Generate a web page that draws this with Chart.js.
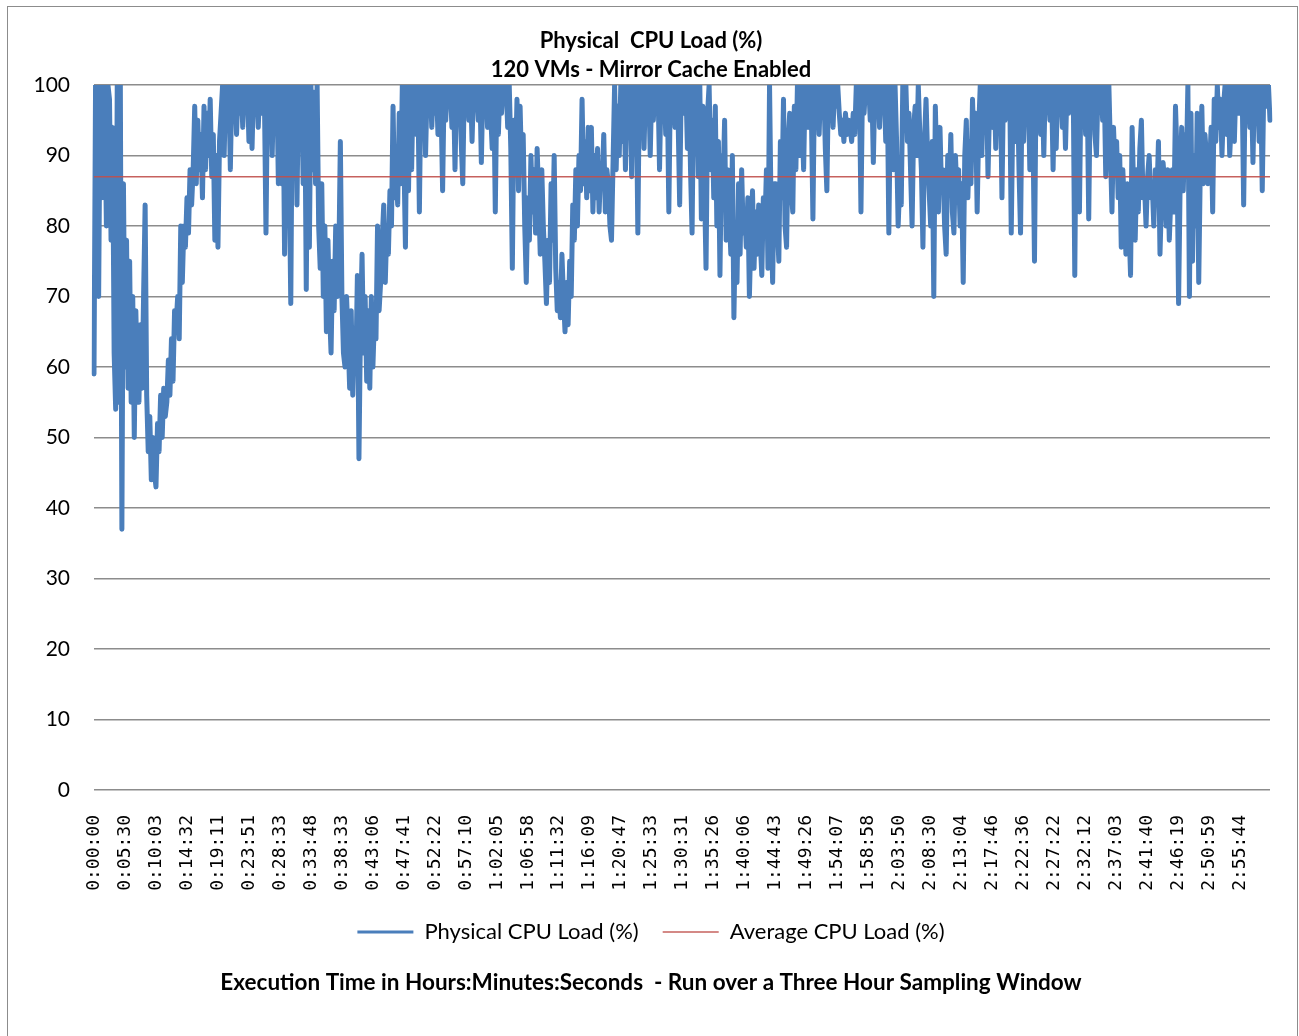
<!DOCTYPE html>
<html>
<head>
<meta charset="utf-8">
<script src="https://cdn.jsdelivr.net/npm/chart.js@4.4.1/dist/chart.umd.min.js"></script>
<style>
html, body { margin: 0; padding: 0; background: #fff; }
#wrap { position: relative; width: 1299px; height: 1036px; overflow: hidden; }
#frame { position: absolute; left: 7px; top: 6px; width: 1289px; height: 1100px; border: 1px solid #8c8c8c; pointer-events: none; }
canvas { position: absolute; left: 0; top: 0; }
</style>
</head>
<body>
<div id="wrap">
  <canvas id="cpuChart" width="1299" height="1036"></canvas>
  <div id="frame"></div>
</div>
<script>
// one tick label every 20 samples
var perTick = 20;
var tickLabels = ["0:00:00","0:05:30","0:10:03","0:14:32","0:19:11","0:23:51","0:28:33","0:33:48",
  "0:38:33","0:43:06","0:47:41","0:52:22","0:57:10","1:02:05","1:06:58","1:11:32","1:16:09",
  "1:20:47","1:25:33","1:30:31","1:35:26","1:40:06","1:44:43","1:49:26","1:54:07","1:58:58",
  "2:03:50","2:08:30","2:13:04","2:17:46","2:22:36","2:27:22","2:32:12","2:37:03","2:41:40",
  "2:46:19","2:50:59","2:55:44"];

// Physical CPU Load (%) samples (one row per tick label)
var cpuLoad = [
  59,100,96,70,100,84,100,97,80,100,98,78,94,62,54,100,55,100,37,86,
  60,78,57,75,55,70,50,68,58,55,66,57,70,83,56,48,53,44,50,45,
  43,52,48,56,50,57,53,55,61,56,64,58,68,66,70,64,80,72,80,77,
  84,79,88,83,88,97,86,95,88,93,84,97,88,96,90,98,87,93,78,90,
  77,92,96,100,90,100,95,100,88,100,97,100,93,100,96,100,94,100,98,100,
  92,100,91,100,97,100,94,100,96,100,98,79,100,93,100,90,100,96,100,86,
  100,86,100,76,95,100,88,69,100,92,100,83,100,95,100,86,100,71,100,77,
  100,88,99,86,100,80,74,86,70,80,65,78,68,62,75,68,80,70,75,92,
  70,62,60,70,64,57,68,56,65,60,73,47,66,76,62,70,58,68,57,70,
  60,67,64,80,68,72,78,83,72,80,76,85,80,97,84,88,83,96,86,100,
  90,77,100,85,100,88,100,96,93,100,82,100,94,100,90,100,97,100,94,100,
  96,100,93,100,97,85,100,95,100,98,100,94,100,88,100,97,100,92,86,100,
  97,100,95,100,92,100,98,100,95,100,89,100,97,100,94,100,96,91,100,82,
  100,93,100,96,100,98,100,94,100,91,74,95,88,98,85,97,88,93,80,72,
  84,78,90,82,88,79,91,84,76,88,80,75,69,78,72,86,78,90,74,68,
  72,67,76,70,65,72,66,75,70,83,78,88,80,90,85,98,86,92,84,94,
  85,94,82,90,84,91,82,88,86,93,82,88,86,80,78,89,100,88,97,90,
  100,92,100,88,100,95,100,87,100,97,100,79,100,93,100,91,100,96,100,90,
  100,95,100,98,100,88,100,96,100,93,100,82,100,97,100,94,100,95,83,100,
  100,96,100,91,100,88,79,100,94,100,87,100,81,97,86,74,96,100,88,95,
  84,97,80,92,73,90,86,95,78,88,82,76,90,67,80,72,86,76,88,79,
  82,77,84,70,79,85,74,82,76,83,78,73,84,80,88,74,100,82,72,86,
  86,80,75,92,84,98,80,77,92,96,85,82,97,88,100,90,100,95,88,100,
  100,94,100,96,81,100,97,100,93,100,98,100,91,85,100,96,100,94,100,97,
  100,96,93,95,92,96,93,95,94,92,96,93,100,95,100,82,100,96,100,98,
  100,95,100,89,100,96,100,94,100,98,100,92,100,79,97,100,88,100,92,80,
  86,83,100,94,100,92,96,88,80,94,97,90,100,93,88,77,92,98,90,85,
  80,92,70,97,88,82,94,85,88,80,76,90,85,93,82,79,90,84,88,80,
  86,72,90,95,84,92,86,98,90,96,82,94,100,90,100,95,100,87,97,100,
  94,100,91,100,97,100,84,100,95,100,98,100,79,96,100,92,100,88,79,100,
  92,100,96,100,88,100,94,75,100,96,100,93,100,90,100,97,100,95,100,88,
  100,91,100,97,100,94,100,91,100,96,100,98,100,73,100,90,82,100,96,100,
  93,100,81,100,96,100,93,90,100,97,100,95,100,87,96,100,91,82,94,88,
  92,84,90,77,88,83,76,86,80,73,94,85,78,88,82,91,95,84,86,80,
  87,90,84,86,80,88,84,92,76,84,89,86,80,88,78,84,88,82,97,90,
  69,86,94,85,93,88,100,70,96,75,90,80,96,72,88,97,86,93,90,86,
  88,94,82,98,92,100,94,98,90,97,100,93,100,90,95,100,92,100,96,100,
  96,100,83,100,97,100,94,100,89,100,97,100,92,100,85,100,97,100,100,95
];

// Average CPU Load (%)
var avgLoad = 87;

var yTicks = [0, 10, 20, 30, 40, 50, 60, 70, 80, 90, 100];

function buildLabels() {
  var labels = [];
  for (var i = 0; i < cpuLoad.length; i++) {
    labels.push(i % perTick === 0 ? tickLabels[i / perTick] : "");
  }
  return labels;
}

function legendLabels(chart) {
  var items = Chart.defaults.plugins.legend.labels.generateLabels(chart);
  items.forEach(function(item) {
    if (item.datasetIndex === 0) {
      item.lineWidth = 3;
    }
  });
  return items;
}

var ctx = document.getElementById("cpuChart").getContext("2d");
var cpuChart = new Chart(ctx, {
  type: "line",
  data: {
    labels: buildLabels(),
    datasets: [{
      label: "Physical CPU Load (%)",
      data: cpuLoad,
      borderColor: "#4a7ebb",
      backgroundColor: "#4a7ebb",
      borderWidth: 5,
      borderJoinStyle: "round",
      borderCapStyle: "round",
      pointRadius: 0,
      tension: 0,
      order: 2
    }, {
      label: "Average CPU Load (%)",
      data: [{x: 0, y: avgLoad}, {x: cpuLoad.length - 1, y: avgLoad}],
      parsing: false,
      borderColor: "rgba(192, 80, 77, 0.9)",
      backgroundColor: "rgba(192, 80, 77, 0.9)",
      borderWidth: 1.5,
      pointRadius: 0,
      order: 1
    }]
  },
  options: {
    responsive: false,
    animation: false,
    devicePixelRatio: 1,
    layout: {
      padding: {top: 26, right: 29, bottom: 39.5, left: 32}
    },
    plugins: {
      tooltip: {enabled: false},
      title: {
        display: true,
        text: ["Physical  CPU Load (%)", "120 VMs - Mirror Cache Enabled"],
        color: "#000",
        font: {family: "Lato", size: 22, weight: "bold", lineHeight: 1.32},
        padding: {top: 0, bottom: 1}
      },
      subtitle: {
        display: true,
        position: "bottom",
        text: "Execution Time in Hours:Minutes:Seconds  - Run over a Three Hour Sampling Window",
        color: "#000",
        font: {family: "Lato", size: 22.5, weight: "bold", lineHeight: 1.2},
        padding: {top: 16.5, bottom: 0}
      },
      legend: {
        position: "bottom",
        labels: {
          usePointStyle: true,
          pointStyle: "line",
          pointStyleWidth: 56,
          padding: 24,
          color: "#000",
          font: {family: "Lato", size: 22},
          generateLabels: legendLabels,
          sort: function(a, b) { return a.datasetIndex - b.datasetIndex; }
        }
      }
    },
    scales: {
      x: {
        grid: {display: false},
        border: {display: false},
        ticks: {
          autoSkip: false,
          minRotation: 90,
          maxRotation: 90,
          padding: 17,
          color: "#000",
          font: {family: "DejaVu Sans Mono", size: 18}
        },
        afterFit: function(scale) {
          scale.height = 107;
          scale.paddingLeft = 0;
          scale.paddingRight = 0;
        }
      },
      y: {
        min: 0,
        max: 100,
        afterBuildTicks: function(scale) {
          scale.ticks = yTicks.map(function(v) { return {value: v}; });
        },
        grid: {color: "#8c8c8c", lineWidth: 1.5, drawTicks: false},
        border: {display: false},
        ticks: {
          padding: 24,
          color: "#000",
          font: {family: "Lato", size: 21}
        },
        afterFit: function(scale) { scale.width = 62; }
      }
    }
  }
});
</script>
</body>
</html>
